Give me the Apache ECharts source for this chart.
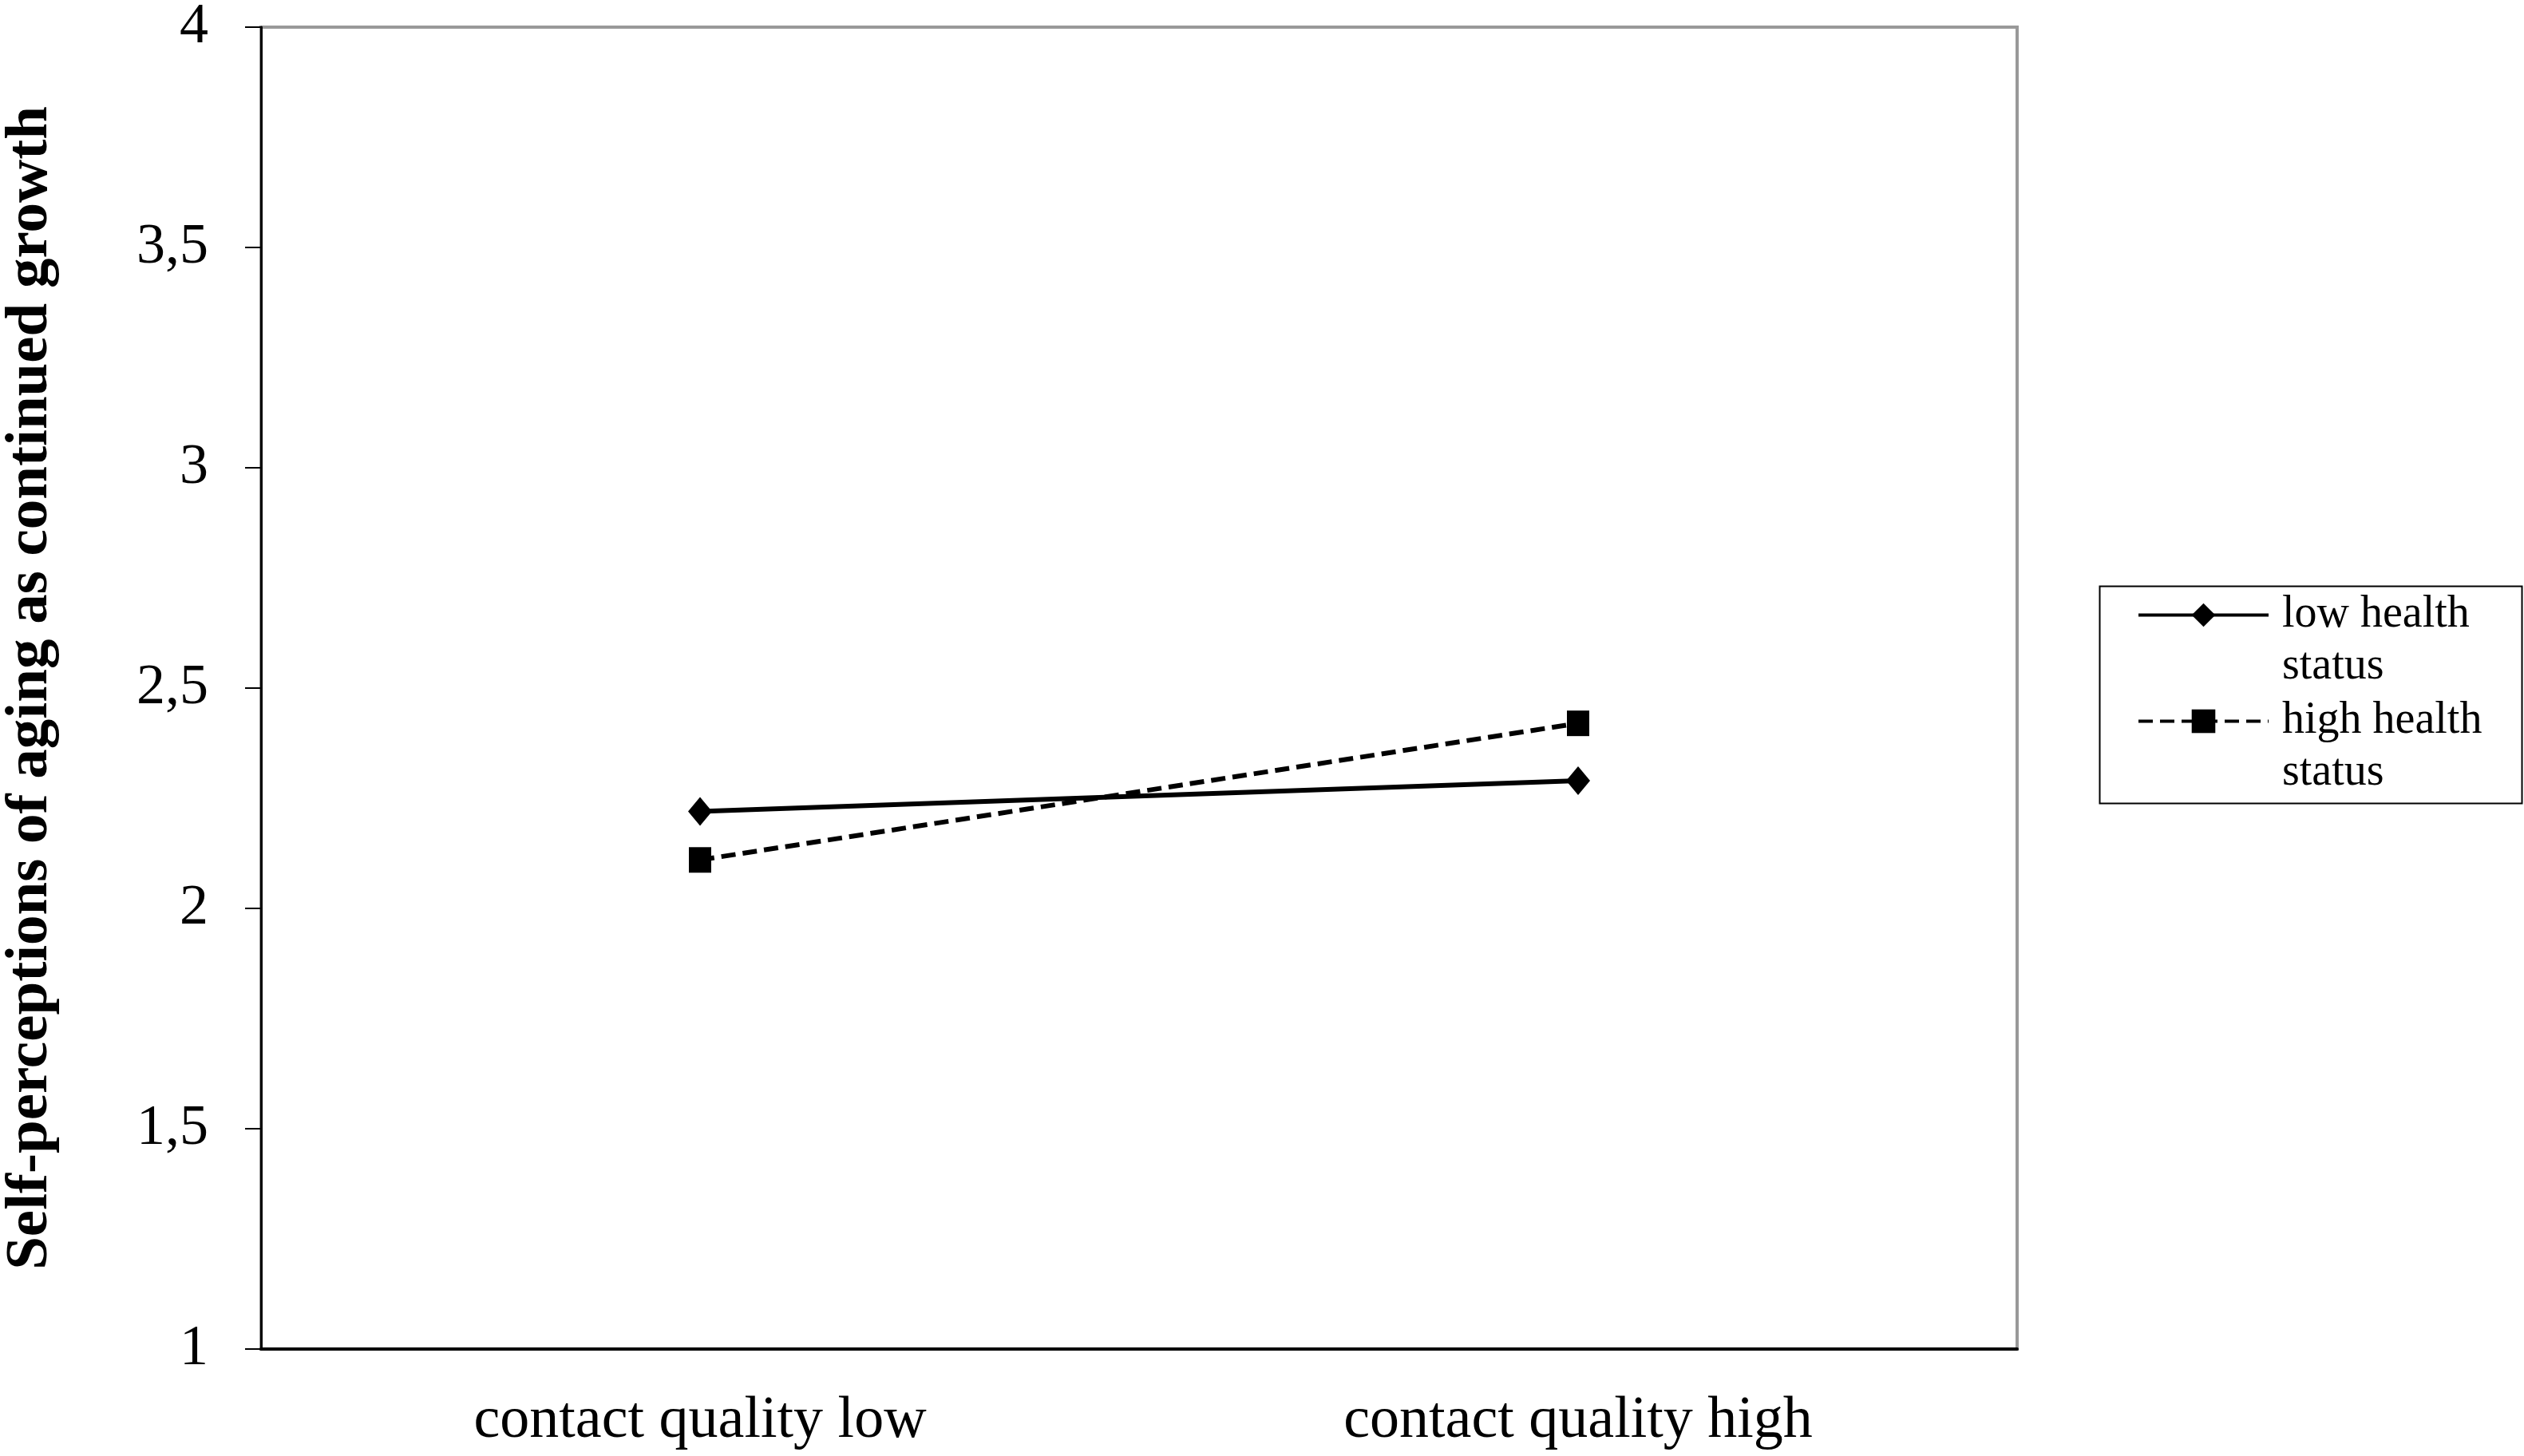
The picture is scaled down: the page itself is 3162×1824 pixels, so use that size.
<!DOCTYPE html>
<html>
<head>
<meta charset="utf-8">
<script src="https://cdn.jsdelivr.net/npm/echarts@6/dist/echarts.min.js"></script>
<style>
  html, body { margin: 0; padding: 0; background: #fff; }
  #chart { width: 3162px; height: 1824px; }
</style>
</head>
<body>
<div id="chart"></div>
<script>
// values
const categories = ['contact quality low', 'contact quality high'];
const seriesNames = ['low health status', 'high health status'];
const lowHealth = [2.22, 2.29];
const highHealth = [2.11, 2.42];
const yTicks = [1, 4, 0.5]; // min, max, step

const font = 'Liberation Serif';
const chart = echarts.init(document.getElementById('chart'));
chart.setOption({
  backgroundColor: '#fff',
  animation: false,
  textStyle: { fontFamily: font, color: '#000' },
  grid: {
    left: 327, top: 34, right: 635, bottom: 134,
    outerBoundsMode: 'none',
    show: true, borderColor: '#999', borderWidth: 4, backgroundColor: '#fff'
  },
  // frame around the legend (legend text wraps to two lines, icon sits on first line)
  graphic: [{
    type: 'rect', left: 2628, top: 732, z: 10,
    shape: { width: 529, height: 272 },
    style: { fill: 'none', stroke: '#000', lineWidth: 2 }
  }],
  legend: {
    orient: 'vertical',
    left: 2677, top: 673,
    padding: 0,
    itemWidth: 163, itemHeight: 37, itemGap: -62,
    selectedMode: false,
    data: seriesNames,
    // leading blank line keeps the icon level with the first text line
    formatter: name => '\n' + name.replace(' status', '\nstatus'),
    lineStyle: { width: 4 },
    textStyle: { fontFamily: font, fontSize: 56, lineHeight: 65, color: '#000', padding: [0, 0, 0, 12] }
  },
  xAxis: {
    type: 'category',
    data: categories,
    axisLine: { lineStyle: { color: '#000', width: 4 } },
    axisTick: { length: 22, lineStyle: { color: '#000', width: 2 } },
    axisLabel: { fontFamily: font, fontSize: 74, color: '#000', margin: 54 }
  },
  yAxis: {
    type: 'value',
    min: yTicks[0], max: yTicks[1], interval: yTicks[2],
    name: 'Self-perceptions of aging as continued growth',
    nameLocation: 'middle',
    nameGap: 251,
    nameTextStyle: { fontFamily: font, fontSize: 75, fontWeight: 'bold', color: '#000' },
    axisLine: { show: true, lineStyle: { color: '#000', width: 3 } },
    axisTick: { show: true, length: 20, lineStyle: { color: '#000', width: 2 } },
    splitLine: { show: false },
    axisLabel: {
      fontFamily: font, fontSize: 72, color: '#000', margin: 66,
      formatter: v => String(v).replace('.', ',')
    }
  },
  series: [
    {
      name: seriesNames[0], type: 'line', data: lowHealth,
      symbol: 'diamond', symbolSize: [30, 36],
      lineStyle: { color: '#000', width: 6, type: 'solid' },
      itemStyle: { color: '#000' }
    },
    {
      name: seriesNames[1], type: 'line', data: highHealth,
      symbol: 'rect', symbolSize: [28, 32],
      lineStyle: { color: '#000', width: 6, type: [18, 9] },
      itemStyle: { color: '#000' }
    }
  ]
});
</script>
</body>
</html>
